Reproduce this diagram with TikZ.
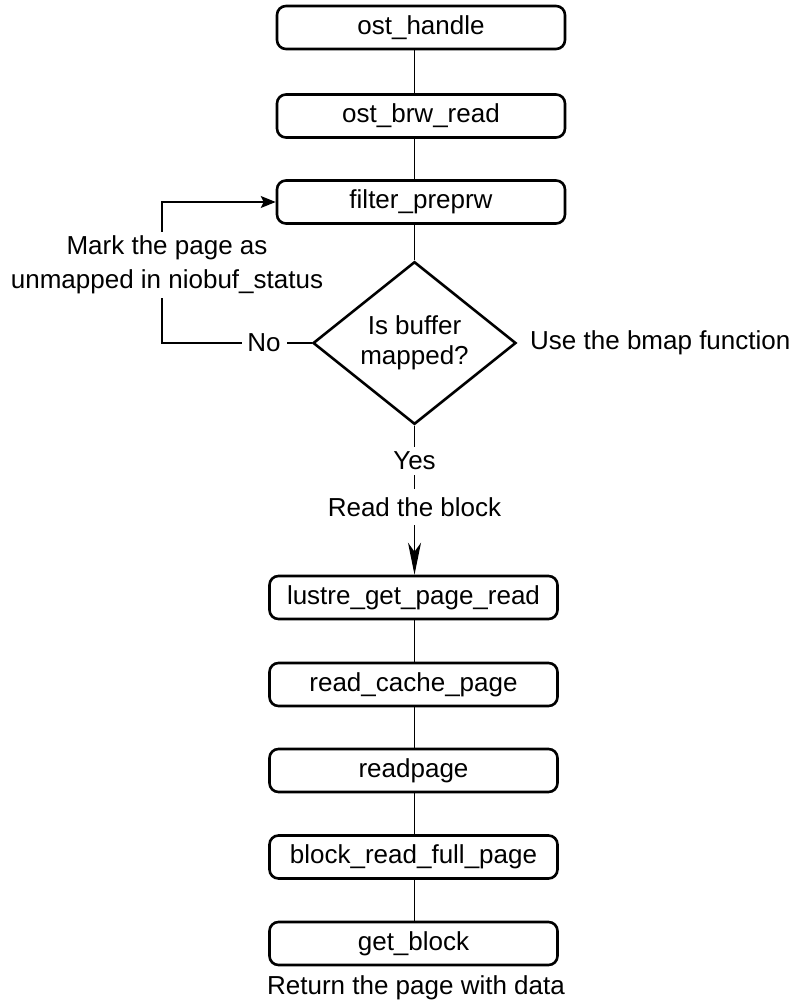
\documentclass[tikz,border=0pt]{standalone}
\usepackage{fontspec}
\setmainfont{Liberation Sans}
\usetikzlibrary{shapes.geometric,arrows.meta}
\begin{document}
\begin{tikzpicture}[x=1pt,y=-1pt,
  every node/.style={font=\fontsize{26}{30}\selectfont},
  fbox/.style={draw,line width=2.6pt,rounded corners=9pt,minimum width=288pt,minimum height=43pt,inner sep=0pt},
  dec/.style={draw,diamond,line width=2.6pt,minimum width=203pt,minimum height=151pt,inner sep=0pt,align=center},
  conn/.style={line width=1.3pt},
  lbl/.style={fill=white,inner sep=0pt,align=center}]
\useasboundingbox (0,0) rectangle (789,1000);
% upper boxes
\node[fbox] (b1) at (421,27.5) {ost\_handle};
\node[fbox] (b2) at (421,116) {ost\_brw\_read};
\node[fbox] (b3) at (421,202) {filter\_preprw};
\node[dec] (d) at (414.5,343) {Is buffer\\mapped?};
% lower boxes
\node[fbox] (l1) at (413.5,597.5) {lustre\_get\_page\_read};
\node[fbox] (l2) at (413.5,684.5) {read\_cache\_page};
\node[fbox] (l3) at (413.5,770.5) {readpage};
\node[fbox] (l4) at (413.5,857) {block\_read\_full\_page};
\node[fbox] (l5) at (413.5,943.5) {get\_block};
\coordinate (lc) at (162,343);
% connectors
\draw[conn] (b1.south -| d.north) -- (b2.north -| d.north);
\draw[conn] (b2.south -| d.north) -- (b3.north -| d.north);
\draw[conn] (b3.south -| d.north) -- (d.north);
\draw[conn,-{Stealth[length=15pt,width=12pt,inset=3pt]}] (d.west) -- (d.west -| lc) |- (b3.west);
\draw[conn,-{Stealth[length=32pt,width=13pt,inset=9pt]}] (d.south) -- (l1.north -| d.south);
\draw[conn] (l1.south -| d.north) -- (l2.north -| d.north);
\draw[conn] (l2.south -| d.north) -- (l3.north -| d.north);
\draw[conn] (l3.south -| d.north) -- (l4.north -| d.north);
\draw[conn] (l4.south -| d.north) -- (l5.north -| d.north);
% labels
\node[lbl,minimum width=45pt,minimum height=30pt] (no) at (264,343) {No};
\node[lbl,minimum height=66pt,font=\fontsize{26}{34}\selectfont] (mk) at (167,265) {Mark the page as\\unmapped in niobuf\_status};
\node[lbl,minimum height=28pt] (yes) at (414.5,461) {Yes};
\node[lbl,minimum height=36pt] (rb) at (414.5,507) {Read the block};
\node[anchor=west,inner sep=0pt] (bm) at (530,343) {Use the bmap function};
\node[inner sep=0pt] (ret) at (416,988) {Return the page with data};
\end{tikzpicture}
\end{document}
